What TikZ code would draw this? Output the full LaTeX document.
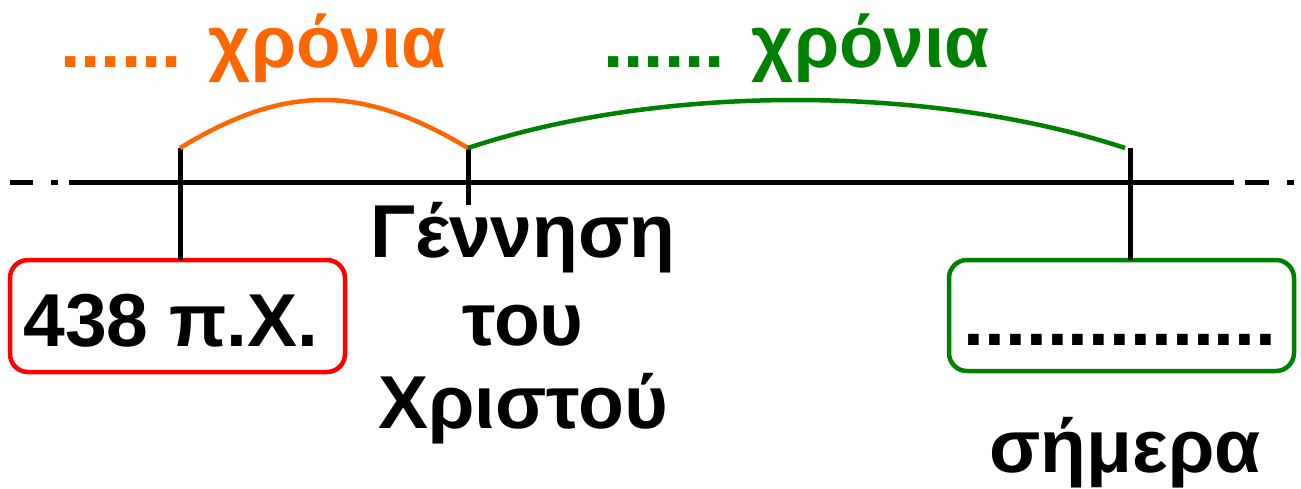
\documentclass[tikz,border=0pt]{standalone}
\usepackage{fontspec}
\setmainfont{Liberation Sans}
\definecolor{orng}{HTML}{FF6600}
\definecolor{grn}{HTML}{008000}
\definecolor{rd}{HTML}{FF0000}
\tikzset{
  lbl/.style={inner sep=0pt, font=\fontsize{75}{86}\selectfont\bfseries},
  ylbl/.style={inner sep=0pt, font=\fontsize{73}{86}\selectfont\bfseries},
  axis/.style={line width=5pt, black},
  tick/.style={line width=5pt, black},
  arc/.style={line width=4.5pt},
  datebox/.style={draw, line width=4.5pt, rounded corners=18pt, inner sep=0pt},
}
\begin{document}
\begin{tikzpicture}[x=1pt,y=-1pt]
\useasboundingbox (0,0) rectangle (1301,488);
% axis pieces
\coordinate (a1) at (10,182); \coordinate (a2) at (33,182);
\coordinate (a3) at (51,182); \coordinate (a4) at (58,182);
\coordinate (a5) at (69,182); \coordinate (a6) at (1234,182);
\coordinate (a7) at (1245,182); \coordinate (a8) at (1269,182);
\coordinate (a9) at (1287,182); \coordinate (a10) at (1294,182);
\draw[axis] (a1) -- (a2) (a3) -- (a4) (a5) -- (a6) (a7) -- (a8) (a9) -- (a10);
% boxes
\node[datebox, draw=rd, minimum width=335pt, minimum height=112pt] (bc) at (177.5,316) {};
\node[datebox, draw=grn, minimum width=345pt, minimum height=111pt] (now) at (1121.5,315.5) {};
\node[lbl, anchor=base] (bct) at (171,346) {438 π.Χ.};
\node[lbl, anchor=base] (nowt) at (1120,345) {...............};
% tick tops
\coordinate (t1) at (180,148);
\coordinate (t2) at (468,148);
\coordinate (t2b) at (468,205);
\coordinate (t3) at (1130,148);
\coordinate (t3b) at (1130,260);
\coordinate (t1b) at (180,260);
\draw[tick] (t1) -- (t1b);
\draw[tick] (t2) -- (t2b);
\draw[tick] (t3) -- (t3b);
% arcs
\coordinate (g1) at (1125,148);
\draw[arc, orng] (t1) .. controls (285,84) and (361,84) .. (t2);
\draw[arc, grn] (t2) .. controls (660,84) and (930,84) .. (g1);
% labels
\node[ylbl, anchor=base west, text=orng] (yo) at (60,67) {...... χρόνια};
\node[ylbl, anchor=base west, text=grn] (yg) at (603,67) {...... χρόνια};
\node[lbl, anchor=base] (gen1) at (523,257) {Γέννηση};
\node[lbl, anchor=base] (gen2) at (523,345) {του};
\node[lbl, anchor=base] (gen3) at (523,428) {Χριστού};
\node[lbl, anchor=base] (today) at (1125,472) {σήμερα};
\end{tikzpicture}
\end{document}
